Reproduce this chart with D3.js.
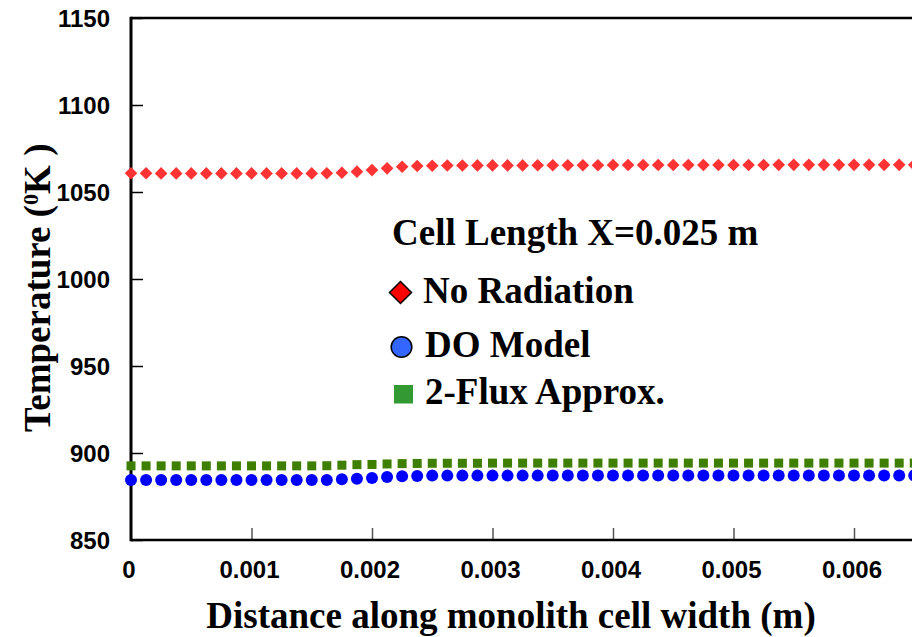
<!DOCTYPE html>
<html>
<head>
<meta charset="utf-8">
<script src="https://cdn.jsdelivr.net/npm/d3@7"></script>
<style>
  html, body { margin: 0; padding: 0; background: #fff; }
  svg { display: block; }
</style>
</head>
<body>
<svg id="chart" width="912" height="637"></svg>
<script>
// Distance along the cell width (m)
const distance = [
  0, 0.000125, 0.00025, 0.000375, 0.0005, 0.000625, 0.00075, 0.000875,
  0.001, 0.001125, 0.00125, 0.001375, 0.0015, 0.001625, 0.00175, 0.001875,
  0.002, 0.002125, 0.00225, 0.002375, 0.0025, 0.002625, 0.00275, 0.002875,
  0.003, 0.003125, 0.00325, 0.003375, 0.0035, 0.003625, 0.00375, 0.003875,
  0.004, 0.004125, 0.00425, 0.004375, 0.0045, 0.004625, 0.00475, 0.004875,
  0.005, 0.005125, 0.00525, 0.005375, 0.0055, 0.005625, 0.00575, 0.005875,
  0.006, 0.006125, 0.00625, 0.006375, 0.0065
];

// Temperature (K), no radiation
const noRadiation = [
  1060.8, 1060.8, 1060.7, 1060.7, 1060.7, 1060.7, 1060.7, 1060.7,
  1060.7, 1060.7, 1060.7, 1060.7, 1060.7, 1060.8, 1061.1, 1061.7,
  1062.6, 1063.6, 1064.5, 1064.9, 1065.1, 1065.2, 1065.2, 1065.3,
  1065.3, 1065.3, 1065.3, 1065.4, 1065.4, 1065.4, 1065.4, 1065.4,
  1065.5, 1065.5, 1065.5, 1065.5, 1065.5, 1065.5, 1065.5, 1065.5,
  1065.5, 1065.5, 1065.5, 1065.6, 1065.6, 1065.6, 1065.6, 1065.6,
  1065.6, 1065.6, 1065.6, 1065.6, 1065.6
];

// Temperature (K), discrete ordinates model
const doModel = [
  884.5, 884.5, 884.5, 884.5, 884.5, 884.5, 884.5, 884.5,
  884.5, 884.5, 884.5, 884.5, 884.5, 884.5, 884.9, 885.2,
  885.6, 886.2, 886.6, 886.8, 887.0, 887.0, 887.0, 887.0,
  887.0, 887.0, 887.0, 887.0, 887.1, 887.1, 887.1, 887.1,
  887.1, 887.1, 887.1, 887.1, 887.1, 887.1, 887.1, 887.1,
  887.1, 887.1, 887.1, 887.1, 887.1, 887.1, 887.1, 887.1,
  887.1, 887.1, 887.1, 887.1, 887.1
];

// Temperature (K), two-flux approximation
const twoFlux = [
  892.6, 892.6, 892.6, 892.6, 892.6, 892.6, 892.6, 892.6,
  892.6, 892.6, 892.6, 892.6, 892.6, 892.7, 893.0, 893.3,
  893.4, 893.7, 893.9, 894.0, 894.1, 894.1, 894.1, 894.1,
  894.2, 894.2, 894.2, 894.2, 894.2, 894.2, 894.2, 894.2,
  894.2, 894.2, 894.2, 894.2, 894.2, 894.2, 894.2, 894.2,
  894.2, 894.2, 894.2, 894.2, 894.2, 894.2, 894.2, 894.2,
  894.2, 894.2, 894.2, 894.2, 894.2
];

const xTicks = [0, 0.001, 0.002, 0.003, 0.004, 0.005, 0.006];
const xTickLabels = ["0", "0.001", "0.002", "0.003", "0.004", "0.005", "0.006"];
const yTicks = [850, 900, 950, 1000, 1050, 1100, 1150];

const legendTitle = "Cell Length X=0.025 m";
const seriesNames = ["No Radiation", "DO Model", "2-Flux Approx."];

const svg = d3.select("#chart");
const plotLeft = 131, plotTop = 18, plotBottom = 540;

const x = d3.scaleLinear().domain([0, 0.007]).range([plotLeft, plotLeft + 7 * 120.5]);
const y = d3.scaleLinear().domain([850, 1150]).range([plotBottom, plotTop]);

const sansFont = "'Liberation Sans', Arial, sans-serif";
const serifFont = "'Liberation Serif', 'Times New Roman', serif";

// Y axis: ticks point inward, labels on the left
const yAxis = d3.axisRight(y).tickValues(yTicks).tickSize(12).tickFormat("");
const gy = svg.append("g").attr("transform", `translate(${plotLeft},0)`).call(yAxis);
gy.select(".domain").remove();
gy.selectAll(".tick line").attr("stroke", "#000").attr("stroke-width", 1.5);

svg.append("g").selectAll("text").data(yTicks).join("text")
  .attr("x", 110).attr("y", d => y(d) + 8.5)
  .attr("text-anchor", "end")
  .style("font-family", sansFont).style("font-weight", "bold").style("font-size", "24px")
  .text(d => d);

// X axis: ticks point up into the plot
const xAxis = d3.axisTop(x).tickValues(xTicks.slice(1)).tickSize(12).tickFormat("");
const gx = svg.append("g").attr("transform", `translate(0,${plotBottom})`).call(xAxis);
gx.select(".domain").remove();
gx.selectAll(".tick line").attr("stroke", "#555").attr("stroke-width", 1.5);

svg.append("g").selectAll("text").data(xTicks).join("text")
  .attr("x", d => x(d) - 2).attr("y", 578)
  .attr("text-anchor", "middle")
  .style("font-family", sansFont).style("font-weight", "bold").style("font-size", "24px")
  .text((d, i) => xTickLabels[i]);

// Frame lines
svg.append("line").attr("x1", plotLeft).attr("x2", 912).attr("y1", plotTop).attr("y2", plotTop)
  .attr("stroke", "#000").attr("stroke-width", 2.5);
svg.append("line").attr("x1", plotLeft).attr("x2", plotLeft)
  .attr("y1", plotTop - 1.2).attr("y2", plotBottom + 1.2)
  .attr("stroke", "#000").attr("stroke-width", 3);
svg.append("line").attr("x1", plotLeft).attr("x2", 912).attr("y1", plotBottom).attr("y2", plotBottom)
  .attr("stroke", "#000").attr("stroke-width", 2.5);

// Data markers
const plot = svg.append("g");

plot.append("g").selectAll("path").data(distance).join("path")
  .attr("transform", (d, i) => `translate(${x(d)},${y(noRadiation[i])})`)
  .attr("d", "M0,-6.3L6.3,0L0,6.3L-6.3,0Z")
  .attr("fill", "#ff3333");

plot.append("g").selectAll("rect").data(distance).join("rect")
  .attr("x", d => x(d) - 4.5).attr("y", (d, i) => y(twoFlux[i]) - 4.5)
  .attr("width", 9).attr("height", 9)
  .attr("fill", "#3f7f00");

plot.append("g").selectAll("circle").data(distance).join("circle")
  .attr("cx", d => x(d)).attr("cy", (d, i) => y(doModel[i]))
  .attr("r", 6)
  .attr("fill", "#0000ff");

// Legend
const legend = svg.append("g");
legend.append("text").attr("x", 392).attr("y", 245)
  .style("font-family", serifFont).style("font-weight", "bold").style("font-size", "37px")
  .text(legendTitle);

const rows = [303, 357, 404];
legend.append("path")
  .attr("d", "M400.5,281.5L411.5,292.5L400.5,303.5L389.5,292.5Z")
  .attr("fill", "#ff0000").attr("stroke", "#000").attr("stroke-width", 1.5);
legend.append("circle").attr("cx", 401.5).attr("cy", 347).attr("r", 10.3)
  .attr("fill", "#3366ff").attr("stroke", "#000").attr("stroke-width", 1.5);
legend.append("rect").attr("x", 394).attr("y", 385).attr("width", 19).attr("height", 18.5)
  .attr("fill", "#339933");

legend.selectAll("text.item").data(seriesNames).join("text")
  .attr("class", "item")
  .attr("x", (d, i) => i === 0 ? 423 : 425).attr("y", (d, i) => rows[i])
  .style("font-family", serifFont).style("font-weight", "bold").style("font-size", "37px")
  .text(d => d);

// Axis titles
svg.append("text").attr("x", 511).attr("y", 628)
  .attr("text-anchor", "middle")
  .style("font-family", serifFont).style("font-weight", "bold").style("font-size", "37px")
  .text("Distance along monolith cell width (m)");

const yt = svg.append("text")
  .attr("transform", "translate(50,432) rotate(-90)")
  .style("font-family", serifFont).style("font-weight", "bold").style("font-size", "37px");
yt.append("tspan").text("Temperature (");
yt.append("tspan").attr("dy", -12).style("font-size", "22px").text("0");
yt.append("tspan").attr("dy", 12).text("K )");
</script>
</body>
</html>
